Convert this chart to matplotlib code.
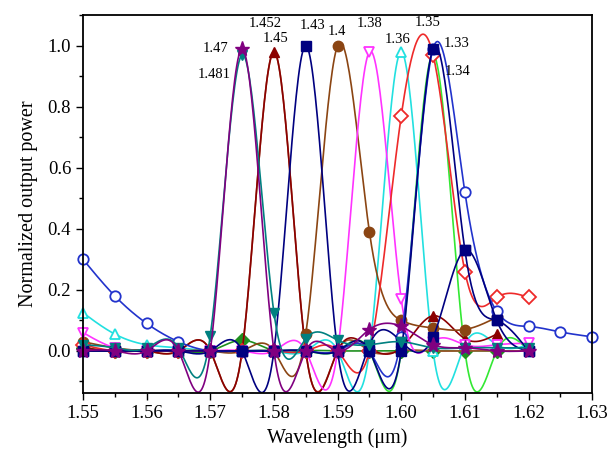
import numpy as np
import matplotlib.pyplot as plt

plt.rcParams['font.family'] = ['Liberation Serif', 'DejaVu Serif']

# values read at wavelength = 1.55, 1.555, 1.56, ... (step 0.005)
x0 = 1.55
step = 0.005

s1481 = [0.02, 0.01, 0.01, 0.01, 0.05, 0.97, 0.125, 0.04, 0.035, 0.02, 0.03, 0.01, 0.01, 0.01, 0.01]
s147 = [0.0, 0.0, 0.0, 0.0, 0.0, 0.99, 0.0, 0.0, 0.0, 0.07, 0.08, 0.02, 0.01, 0.0, 0.0]
s1452 = [0.0, 0.0, 0.0, 0.0, 0.0, 0.0, 0.98, 0.0, 0.0, 0.0, 0.0, 0.0, 0.0, 0.0, 0.0]
s145 = [0.01, 0.0, 0.0, 0.0, 0.0, 0.0, 0.98, 0.0, 0.0, 0.01, 0.01, 0.115, 0.04, 0.055]
s143 = [0.0, 0.0, 0.0, 0.0, 0.0, 0.0, 0.0, 1.0, 0.0, 0.02, 0.03, 0.045, 0.33, 0.10, 0.0]
s14 = [0.03, 0.01, 0.0, 0.0, 0.0, 0.0, 0.0, 0.055, 1.0, 0.39, 0.10, 0.075, 0.07, 0.11]
s138 = [0.06, 0.01, 0.0, 0.0, 0.0, 0.0, 0.0, 0.0, 0.0, 0.98, 0.17, 0.03, 0.02, 0.02, 0.025]
s136 = [0.125, 0.055, 0.02, 0.01, 0.0, 0.0, 0.0, 0.0, 0.0, 0.0, 0.98, 0.0, 0.02, 0.02, 0.02]
s135 = [0.02, 0.0, 0.0, 0.0, 0.0, 0.0, 0.0, 0.0, 0.0, 0.0, 0.77, 0.97, 0.26, 0.175, 0.175]
s133 = [0.0, 0.0, 0.0, 0.0, 0.0, 0.0, 0.0, 0.0, 0.0, 0.0, 0.0, 0.99, 0.33, 0.10, 0.0]
s133b = [0.0, 0.0, 0.0, 0.0, 0.0, 0.0, 0.0, 0.0, 0.0, 0.0, 0.0, 0.97, 0.0, 0.0, 0.0]
s134 = [0.30, 0.18, 0.09, 0.03, 0.0, 0.0, 0.0, 0.0, 0.0, 0.0, 0.045, 0.99, 0.52, 0.13, 0.08, 0.062, 0.046]
sgreen = [0.01, 0.0, 0.0, 0.0, 0.0, 0.035, 0.0, 0.0, 0.0, 0.0, 0.0, 0.0, 0.0, 0.0]

# (values, colour, marker, filled)
series = [
    (s133b, '#33e833', None, True),
    (sgreen, '#1f8f1f', 'D', True),
    (s136, '#22e0e0', '^', False),
    (s1452, '#a0522d', None, True),
    (s145, '#8b0000', '^', True),
    (s14, '#8b4513', 'o', True),
    (s138, '#ff33ff', 'v', False),
    (s135, '#ee2a2a', 'D', False),
    (s134, '#2233cc', 'o', False),
    (s143, '#000080', 's', True),
    (s133, '#000080', 's', True),
    (s1481, '#008080', 'v', True),
    (s147, '#800080', '*', True),
]

peak_labels = ['1.481', '1.47', '1.452', '1.45', '1.43', '1.4', '1.38', '1.36', '1.35', '1.33', '1.34']
label_x = [1.5706, 1.5709, 1.5786, 1.5803, 1.5861, 1.5899, 1.5951, 1.5994, 1.6041, 1.6087, 1.6089]
label_y = [0.905, 0.990, 1.072, 1.023, 1.066, 1.046, 1.072, 1.020, 1.075, 1.007, 0.915]


def spline(x, y, n=30):
    x = np.asarray(x, float)
    y = np.asarray(y, float)
    m = len(x)
    h = np.diff(x)
    A = np.zeros((m, m))
    b = np.zeros(m)
    A[0, 0] = A[-1, -1] = 1
    for i in range(1, m - 1):
        A[i, i - 1] = h[i - 1]
        A[i, i] = 2 * (h[i - 1] + h[i])
        A[i, i + 1] = h[i]
        b[i] = 6 * ((y[i + 1] - y[i]) / h[i] - (y[i] - y[i - 1]) / h[i - 1])
    M = np.linalg.solve(A, b)
    xx, yy = [], []
    for i in range(m - 1):
        t = np.linspace(x[i], x[i + 1], n, endpoint=False)
        a = x[i + 1] - t
        c = t - x[i]
        v = (M[i] * a**3 + M[i + 1] * c**3) / (6 * h[i]) \
            + (y[i] / h[i] - M[i] * h[i] / 6) * a \
            + (y[i + 1] / h[i] - M[i + 1] * h[i] / 6) * c
        xx.append(t)
        yy.append(v)
    xx.append([x[-1]])
    yy.append([y[-1]])
    return np.concatenate(xx), np.concatenate(yy)


fig = plt.figure(figsize=(6.08, 4.59), dpi=100)
ax = fig.add_axes([0.1365, 0.1438, 0.8375, 0.8232])

for vals, col, mk, filled in series:
    xs = x0 + step * np.arange(len(vals))
    sx, sy = spline(xs, vals)
    ax.plot(sx, sy, color=col, lw=1.2)
    if mk is not None:
        ms = 11 if mk == '*' else 7.5
        ax.plot(xs, vals, ls='none', marker=mk, ms=ms, mec=col, clip_on=False,
                mfc=col if filled else 'white', mew=1.3 if not filled else 1)

for t, lx, ly in zip(peak_labels, label_x, label_y):
    ax.text(lx, ly, t, fontsize=10.5, ha='center', va='center')

ax.set_xlim(1.55, 1.63)
ax.set_ylim(-0.138, 1.10)
ax.set_xticks(np.arange(1.55, 1.6301, 0.01))
ax.set_xticks(np.arange(1.555, 1.63, 0.01), minor=True)
ax.set_yticks(np.arange(0, 1.01, 0.2))
ax.set_yticks(np.arange(-0.1, 1.1, 0.2), minor=True)
ax.set_xticklabels(['%.2f' % v for v in np.arange(1.55, 1.6301, 0.01)])
ax.set_yticklabels(['%.1f' % v for v in np.arange(0, 1.01, 0.2)])
ax.tick_params(which='both', direction='out', top=False, right=False, labelsize=13.5, width=1)
ax.tick_params(which='major', length=5)
ax.tick_params(which='minor', length=3)
for sp in ax.spines.values():
    sp.set_linewidth(1.3)
ax.set_xlabel('Wavelength (μm)', fontsize=14.5, labelpad=5)
ax.set_ylabel('Normalized output power', fontsize=14.5, labelpad=7)

plt.savefig('out.png', dpi=100)
